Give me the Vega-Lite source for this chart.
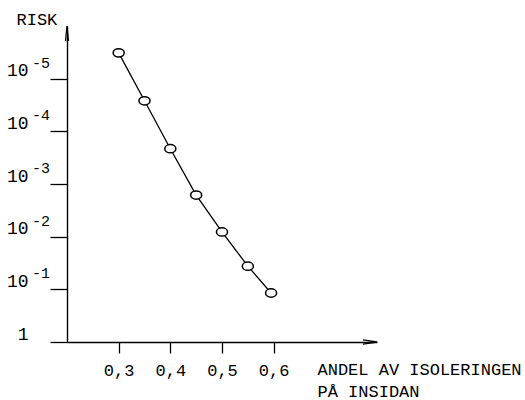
{
  "$schema": "https://vega.github.io/schema/vega-lite/v6.json",
  "width": 310,
  "height": 316,
  "autosize": {"type": "none"},
  "padding": {"left": 67, "top": 26, "right": 148, "bottom": 58},
  "background": "white",
  "config": {
    "view": {"stroke": null},
    "font": "Liberation Mono",
    "axis": {
      "grid": false,
      "domainColor": "black",
      "domainWidth": 1.4,
      "tickColor": "black",
      "tickWidth": 1.3,
      "labelColor": "black",
      "titleColor": "black",
      "labelFont": "Liberation Mono",
      "titleFont": "Liberation Mono",
      "labelFontSize": 17,
      "titleFontSize": 17,
      "titleFontWeight": "normal"
    }
  },
  "datasets": {
    "risk": [
      {"x": 0.30, "y": 5.49},
      {"x": 0.35, "y": 4.58},
      {"x": 0.40, "y": 3.67},
      {"x": 0.45, "y": 2.79},
      {"x": 0.50, "y": 2.09},
      {"x": 0.55, "y": 1.44},
      {"x": 0.595, "y": 0.93}
    ],
    "exps": [
      {"d": 1, "e": "-1"},
      {"d": 2, "e": "-2"},
      {"d": 3, "e": "-3"},
      {"d": 4, "e": "-4"},
      {"d": 5, "e": "-5"}
    ]
  },
  "layer": [
    {
      "data": {"name": "risk"},
      "mark": {"type": "line", "color": "black", "strokeWidth": 1.3},
      "encoding": {
        "x": {
          "field": "x", "type": "quantitative",
          "scale": {"domain": [0.2, 0.8], "nice": false, "zero": false},
          "axis": {
            "values": [0.3, 0.4, 0.5, 0.6],
            "labelExpr": "replace(format(datum.value, '.1f'), '.', ',')",
            "tickSize": 11,
            "labelPadding": 22,
            "labelBaseline": "alphabetic",
            "title": ["ANDEL AV ISOLERINGEN", "PÅ INSIDAN"],
            "titleAlign": "left",
            "titleAnchor": "start",
            "titleBaseline": "alphabetic",
            "titleX": 250,
            "titleY": 32,
            "titleLineHeight": 22
          }
        },
        "y": {
          "field": "y", "type": "quantitative",
          "scale": {"domain": [0, 6], "nice": false, "zero": false},
          "axis": {
            "values": [0, 1, 2, 3, 4, 5],
            "labelExpr": "datum.value == 0 ? '1' : '10'",
            "labelFontSize": 18,
            "tickSize": 17,
            "labelPadding": 22,
            "labelBaseline": "alphabetic",
            "labelOffset": -3,
            "labelAlign": "right",
            "title": "RISK",
            "titleAngle": 0,
            "titleAlign": "left",
            "titleBaseline": "alphabetic",
            "titleX": -51,
            "titleY": -2
          }
        }
      }
    },
    {
      "data": {"name": "risk"},
      "mark": {"type": "point", "shape": "M-1.2,0 A1.2,0.9 0 1,0 1.2,0 A1.2,0.9 0 1,0 -1.2,0 Z", "filled": true, "fill": "white", "stroke": "black", "strokeWidth": 1.5, "size": 85, "opacity": 1},
      "encoding": {
        "x": {"field": "x", "type": "quantitative"},
        "y": {"field": "y", "type": "quantitative"}
      }
    },
    {
      "data": {"name": "exps"},
      "mark": {"type": "text", "align": "left", "baseline": "alphabetic", "dx": -35, "dy": -11, "fontSize": 15, "font": "Liberation Mono", "color": "black"},
      "encoding": {
        "x": {"datum": 0.2, "type": "quantitative"},
        "y": {"field": "d", "type": "quantitative"},
        "text": {"field": "e"}
      }
    },
    {
      "data": {"values": [{"ax": "y"}]},
      "mark": {"type": "point", "shape": "M-0.3,3 L0,0 L0.3,3", "filled": false, "stroke": "black", "strokeWidth": 1.3, "size": 100, "opacity": 1},
      "encoding": {
        "x": {"datum": 0.2, "type": "quantitative"},
        "y": {"datum": 6, "type": "quantitative"}
      }
    },
    {
      "data": {"values": [{"ax": "x"}]},
      "mark": {"type": "point", "shape": "M-2,-0.3 L0,0 L-2,0.3", "filled": false, "stroke": "black", "strokeWidth": 1.3, "size": 196, "opacity": 1},
      "encoding": {
        "x": {"datum": 0.8, "type": "quantitative"},
        "y": {"datum": 0, "type": "quantitative"}
      }
    }
  ]
}
